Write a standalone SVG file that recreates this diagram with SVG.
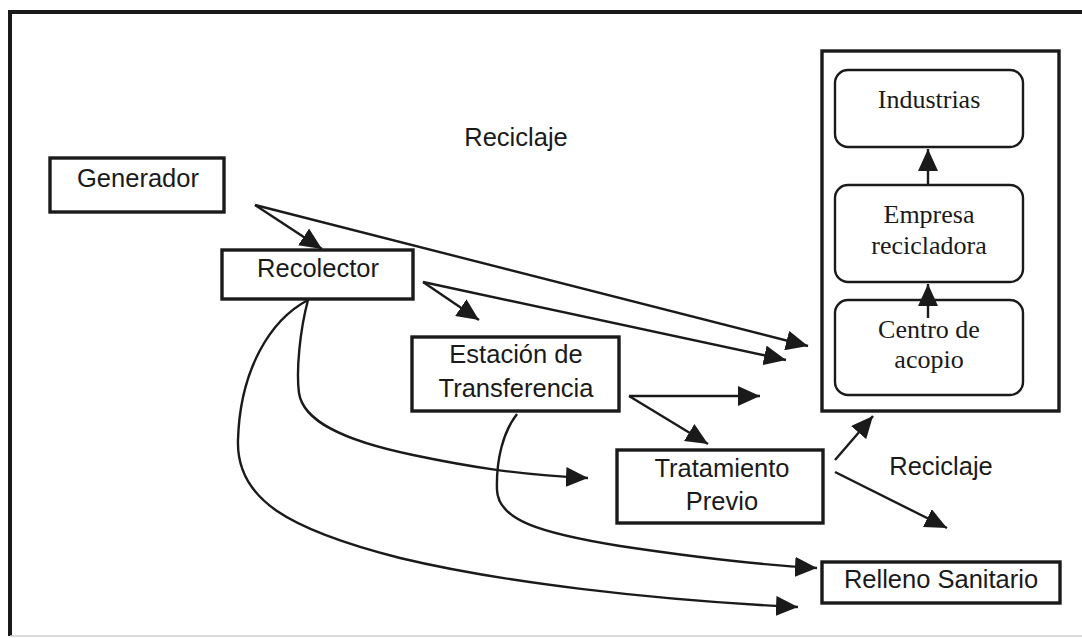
<svg xmlns="http://www.w3.org/2000/svg" width="1082" height="638" viewBox="0 0 1082 638">
  <defs>
    <marker id="ah" viewBox="0 0 22 20" refX="22" refY="10" markerWidth="22" markerHeight="20" markerUnits="userSpaceOnUse" orient="auto">
      <path d="M0,0 L22,10 L0,20 z" fill="#1a1a1a"/>
    </marker>
    <style>
      .box { fill: #ffffff; stroke: #1a1a1a; stroke-width: 3.4; }
      .rbox { fill: #ffffff; stroke: #1a1a1a; stroke-width: 2.4; }
      .sans { font-family: "Liberation Sans", Arial, sans-serif; font-size: 25.5px; fill: #1a1a1a; text-anchor: middle; }
      .serif { font-family: "Liberation Serif", "Times New Roman", serif; font-size: 26px; fill: #1a1a1a; text-anchor: middle; }
      .conn { fill: none; stroke: #1a1a1a; stroke-width: 2.4; marker-end: url(#ah); }
    </style>
  </defs>
  <rect width="1082" height="638" fill="#ffffff"/>
  <g id="frame">
    <path d="M10,636 L10,12 L1082,12" fill="none" stroke="#1a1a1a" stroke-width="4"/>
    <line x1="10" y1="636" x2="1082" y2="636" stroke="#cfcfcf" stroke-width="1.5"/>
  </g>

  <g id="connectors">
    <line class="conn" x1="255" y1="205" x2="322" y2="249"/>
    <line class="conn" x1="255" y1="205" x2="808" y2="346"/>
    <line class="conn" x1="423" y1="282" x2="479" y2="320"/>
    <line class="conn" x1="423" y1="282" x2="786" y2="360"/>
    <line class="conn" x1="629" y1="396" x2="760" y2="396"/>
    <line class="conn" x1="629" y1="396" x2="708" y2="444"/>
    <line class="conn" x1="835" y1="460" x2="873" y2="416"/>
    <line class="conn" x1="835" y1="472" x2="947" y2="528"/>
    <path class="conn" d="M308,300 C270,320 240,370 238,440 C236,500 290,530 400,558 C500,582 650,600 798,607"/>
    <path class="conn" d="M308,300 C300,330 296,370 299,393 C303,420 340,440 413,455 C470,467 520,475 588,478"/>
    <path class="conn" d="M517,414 C503,432 496,460 497,490 C498,520 540,533 620,546 C700,558 760,565 817,568"/>
  </g>

  <g id="generador">
    <rect class="box" x="50" y="158" width="174" height="54"/>
    <text class="sans" x="138" y="187">Generador</text>
  </g>
  <g id="recolector">
    <rect class="box" x="222" y="250" width="191" height="49"/>
    <text class="sans" x="318" y="277">Recolector</text>
  </g>
  <g id="label-reciclaje-top">
    <text class="sans" x="516" y="146">Reciclaje</text>
  </g>
  <g id="estacion">
    <rect class="box" x="412" y="337" width="207" height="74"/>
    <text class="sans" x="516" y="363">Estación de</text>
    <text class="sans" x="516" y="397">Transferencia</text>
  </g>
  <g id="tratamiento">
    <rect class="box" x="617" y="450" width="206" height="73"/>
    <text class="sans" x="722" y="477">Tratamiento</text>
    <text class="sans" x="722" y="510">Previo</text>
  </g>
  <g id="label-reciclaje-right">
    <text class="sans" x="941" y="475">Reciclaje</text>
  </g>
  <g id="relleno">
    <rect class="box" x="822" y="562" width="238" height="41"/>
    <text class="sans" x="941" y="588">Relleno Sanitario</text>
  </g>
  <g id="reciclaje-group">
    <rect class="box" x="822" y="51" width="237" height="360"/>
    <g id="industrias">
      <rect class="rbox" x="835" y="70" width="188" height="77" rx="13"/>
      <text class="serif" x="929" y="108">Industrias</text>
    </g>
    <g id="empresa">
      <rect class="rbox" x="835" y="185" width="188" height="97" rx="13"/>
      <text class="serif" x="929" y="223">Empresa</text>
      <text class="serif" x="929" y="254">recicladora</text>
    </g>
    <g id="centro">
      <rect class="rbox" x="835" y="300" width="188" height="95" rx="13"/>
      <text class="serif" x="929" y="338">Centro de</text>
      <text class="serif" x="929" y="368">acopio</text>
    </g>
    <g id="inner-connectors">
      <line class="conn" x1="928" y1="185" x2="928" y2="149"/>
      <line class="conn" x1="928" y1="318" x2="928" y2="284"/>
    </g>
  </g>
</svg>
